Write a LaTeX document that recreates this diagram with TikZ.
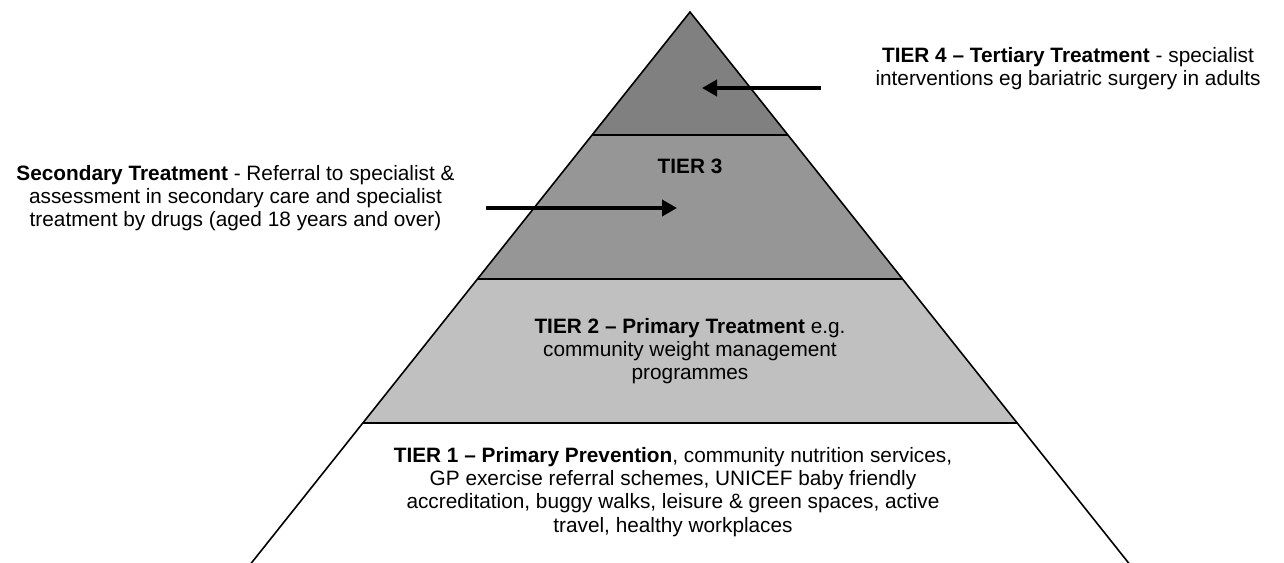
\documentclass[tikz,border=0pt]{standalone}
\usepackage{fontspec}
\setmainfont{Liberation Sans}
\usetikzlibrary{arrows.meta}
\definecolor{tierfour}{HTML}{808080}
\definecolor{tierthree}{HTML}{969696}
\definecolor{tiertwo}{HTML}{C0C0C0}
\tikzset{
  band/.style={draw=black, line width=1.6pt, line join=miter},
  sepline/.style={draw=black, line width=2pt},
  lbl/.style={align=center, inner sep=0pt, anchor=north, font=\fontsize{20.8}{23.3}\selectfont},
  pointer/.style={line width=3.6pt, -{Triangle[length=15pt,width=16pt]}}
}
\begin{document}
\begin{tikzpicture}[x=1pt,y=-1pt]
\useasboundingbox (0,0) rectangle (1284,562);
\fill[white] (0,0) rectangle (1284,562);
\begin{scope}
\clip (0,0) rectangle (1284,562);
% pyramid corners
\coordinate (apex) at (690,12);
\coordinate (l4) at (592.1,135); \coordinate (r4) at (787.9,135);
\coordinate (l3) at (477.5,279); \coordinate (r3) at (902.5,279);
\coordinate (l2) at (362.8,423); \coordinate (r2) at (1017.2,423);
\coordinate (l1) at (249.8,565); \coordinate (r1) at (1130.2,565);
\fill[tiertwo] (l3) -- (r3) -- (r2) -- (l2) -- cycle;
\fill[tierthree] (l4) -- (r4) -- (r3) -- (l3) -- cycle;
\fill[tierfour] (apex) -- (r4) -- (l4) -- cycle;
\draw[band] (l1) -- (apex) -- (r1);
\draw[sepline] (l4) -- (r4);
\draw[sepline] (l3) -- (r3);
\draw[sepline] (l2) -- (r2);
\end{scope}
% labels
\node[lbl] (t4) at (1068,47) {\textbf{TIER 4 – Tertiary Treatment} - specialist\\interventions eg bariatric surgery in adults};
\node[lbl] (t3) at (690,159) {\textbf{TIER 3}};
\node[lbl] (sec) at (235.5,165) {\textbf{Secondary Treatment} - Referral to specialist \&\\assessment in secondary care and specialist\\treatment by drugs (aged 18 years and over)};
\node[lbl] (t2) at (690,318) {\textbf{TIER 2 – Primary Treatment} e.g.\\community weight management\\programmes};
\node[lbl] (t1) at (673,447) {\textbf{TIER 1 – Primary Prevention}, community nutrition services,\\GP exercise referral schemes, UNICEF baby friendly\\accreditation, buggy walks, leisure \& green spaces, active\\travel, healthy workplaces};
% arrows
\coordinate (a4s) at (821,88); \coordinate (a4e) at (702,88);
\coordinate (a3s) at (486,208); \coordinate (a3e) at (677,208);
\draw[pointer] (a4s) -- (a4e);
\draw[pointer] (a3s) -- (a3e);
\end{tikzpicture}
\end{document}
